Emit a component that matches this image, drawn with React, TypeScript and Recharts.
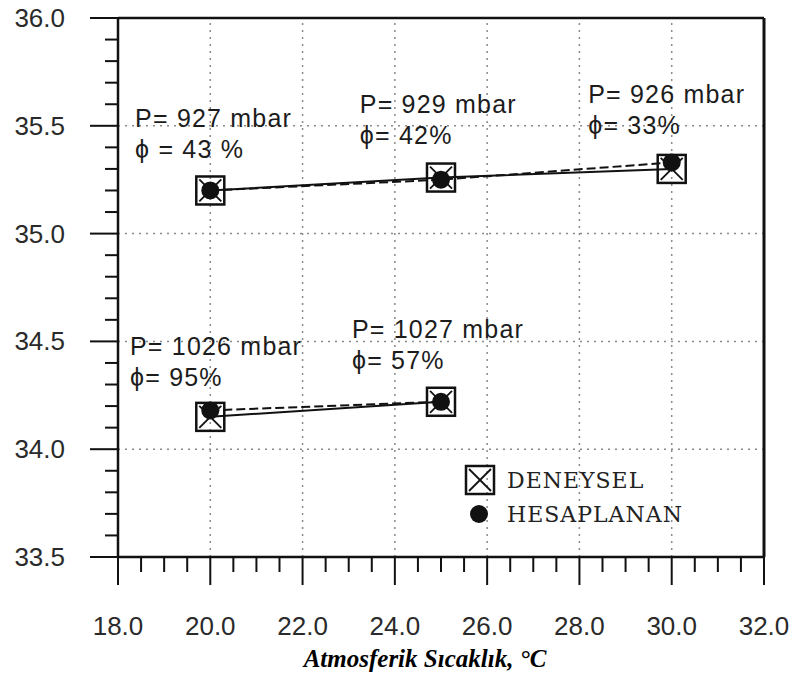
import { Legend, Line, LineChart, ReferenceDot, ReferenceLine, XAxis, YAxis } from 'recharts';

// measured points
const temps = [20, 25, 30];
const upperDeneysel = [35.2, 35.26, 35.3];
const upperHesap = [35.2, 35.25, 35.33];
const lowerDeneysel = [34.15, 34.22, null];
const lowerHesap = [34.18, 34.22, null];

const xTicks = [
  18, 18.5, 19, 19.5, 20, 20.5, 21, 21.5, 22, 22.5, 23, 23.5, 24, 24.5, 25, 25.5, 26, 26.5, 27, 27.5,
  28, 28.5, 29, 29.5, 30, 30.5, 31, 31.5, 32,
];
const yTicks = [
  33.5, 33.6, 33.7, 33.8, 33.9, 34.0, 34.1, 34.2, 34.3, 34.4, 34.5, 34.6, 34.7, 34.8, 34.9, 35.0, 35.1,
  35.2, 35.3, 35.4, 35.5, 35.6, 35.7, 35.8, 35.9, 36.0,
];
const gridX = [20, 22, 24, 26, 28, 30];
const gridY = [34.0, 34.5, 35.0, 35.5];

// condition labels, anchored at data coordinates (left edge, first baseline)
const noteX = [18.37, 23.24, 28.19, 18.26, 23.07];
const noteY = [35.495, 35.56, 35.606, 34.437, 34.516];
const notePressure = ['P= 927 mbar', 'P= 929 mbar', 'P= 926 mbar', 'P= 1026 mbar', 'P= 1027 mbar'];
const noteHumidity = ['\u03d5 = 43 %', '\u03d5= 42%', '\u03d5= 33%', '\u03d5= 95%', '\u03d5= 57%'];

const data = temps.map((t, i) => ({
  t,
  upperDeneysel: upperDeneysel[i],
  upperHesap: upperHesap[i],
  lowerDeneysel: lowerDeneysel[i],
  lowerHesap: lowerHesap[i],
}));

const SANS = '"Liberation Sans", Arial, sans-serif';
const INK = '#111';

const isMultiple = (v: number, step: number) => Math.abs(v / step - Math.round(v / step)) < 1e-6;

function XTick({ x, y, payload }: any) {
  const v = payload.value as number;
  const major = isMultiple(v, 2);
  return (
    <g>
      <line x1={x} x2={x} y1={y} y2={y + (major ? 28 : 15)} stroke={INK} strokeWidth={2} />
      {major && (
        <text x={x} y={y + 78} textAnchor="middle" fontFamily={SANS} fontSize={26} fill="#2a2a2a">
          {v.toFixed(1)}
        </text>
      )}
    </g>
  );
}

function YTick({ x, y, payload }: any) {
  const v = payload.value as number;
  const major = isMultiple(v, 0.5);
  return (
    <g>
      <line x1={x - (major ? 28 : 13)} x2={x} y1={y} y2={y} stroke={INK} strokeWidth={2} />
      {major && (
        <text x={x - 53} y={y + 9} textAnchor="end" fontFamily={SANS} fontSize={26} fill="#2a2a2a">
          {v.toFixed(1)}
        </text>
      )}
    </g>
  );
}

function CrossBox({ cx, cy }: any) {
  if (cx == null || cy == null) return null;
  const h = 14;
  return (
    <g>
      <rect x={cx - h} y={cy - h} width={h * 2} height={h * 2} fill="none" stroke={INK} strokeWidth={2.5} />
      <line x1={cx - h + 3} y1={cy - h + 3} x2={cx + h - 3} y2={cy + h - 3} stroke={INK} strokeWidth={1.8} />
      <line x1={cx + h - 3} y1={cy - h + 3} x2={cx - h + 3} y2={cy + h - 3} stroke={INK} strokeWidth={1.8} />
    </g>
  );
}

function Blob({ cx, cy }: any) {
  if (cx == null || cy == null) return null;
  return <circle cx={cx} cy={cy} r={9} fill={INK} />;
}

function Note({ cx, cy, index }: any) {
  return (
    <g fontFamily={SANS} fontSize={25} fill="#1c1c1c" letterSpacing={1.2}>
      <text x={cx} y={cy}>{notePressure[index]}</text>
      <text x={cx} y={cy + 31}>{noteHumidity[index]}</text>
    </g>
  );
}

function LegendBox() {
  return (
    <svg width={280} height={70} style={{ overflow: 'visible' }}>
      <CrossBox cx={18} cy={18} />
      <Blob cx={17} cy={52} />
      <g fontFamily='"DejaVu Serif", "Liberation Serif", serif' fontSize={22} fill="#222" letterSpacing={1}>
        <text x={45} y={26}>DENEYSEL</text>
        <text x={45} y={60}>HESAPLANAN</text>
      </g>
    </svg>
  );
}

export default function App() {
  return (
    <div style={{ position: 'absolute', left: 0, top: 0, background: '#fff' }}>
      <LineChart width={792} height={675} data={data} margin={{ top: 18, right: 28, bottom: 0, left: 0 }}>
        <XAxis
          dataKey="t"
          type="number"
          domain={[18, 32]}
          ticks={xTicks}
          interval={0}
          height={118}
          tickSize={0}
          tickMargin={0}
          tickLine={false}
          tick={<XTick />}
          axisLine={{ stroke: INK, strokeWidth: 2.5 }}
          label={{
            value: 'Atmosferik S\u0131cakl\u0131k, \u00b0C',
            position: 'insideBottom',
            offset: 8,
            dx: -16,
            style: {
              fontFamily: '"Liberation Serif", "Times New Roman", serif',
              fontStyle: 'italic',
              fontWeight: 'bold',
              fontSize: 25,
              fill: '#000',
            },
          }}
        />
        <YAxis
          type="number"
          domain={[33.5, 36]}
          ticks={yTicks}
          interval={0}
          width={118}
          tickSize={0}
          tickMargin={0}
          tickLine={false}
          tick={<YTick />}
          axisLine={{ stroke: INK, strokeWidth: 2.5 }}
        />
        {gridX.map((g) => (
          <ReferenceLine key={`gx${g}`} x={g} stroke="#8a8a8a" strokeWidth={1.5} strokeDasharray="2 5" />
        ))}
        {gridY.map((g) => (
          <ReferenceLine key={`gy${g}`} y={g} stroke="#8a8a8a" strokeWidth={1.5} strokeDasharray="2 5" />
        ))}
        <ReferenceLine y={36} stroke={INK} strokeWidth={2.5} />
        <ReferenceLine x={32} stroke={INK} strokeWidth={3} />
        <Legend
          layout="horizontal"
          verticalAlign="middle"
          align="center"
          content={<LegendBox />}
          wrapperStyle={{ left: 462, top: 462, width: 280, height: 70 }}
        />
        <Line dataKey="upperDeneysel" stroke={INK} strokeWidth={2} dot={<CrossBox />} isAnimationActive={false} legendType="none" />
        <Line dataKey="lowerDeneysel" stroke={INK} strokeWidth={2} dot={<CrossBox />} isAnimationActive={false} legendType="none" />
        <Line dataKey="upperHesap" stroke={INK} strokeWidth={2} strokeDasharray="9 4" dot={<Blob />} isAnimationActive={false} legendType="none" />
        <Line dataKey="lowerHesap" stroke={INK} strokeWidth={2} strokeDasharray="9 4" dot={<Blob />} isAnimationActive={false} legendType="none" />
        {noteX.map((nx, i) => (
          <ReferenceDot key={`n${i}`} x={nx} y={noteY[i]} r={0} shape={(p: any) => <Note {...p} index={i} />} />
        ))}
      </LineChart>
    </div>
  );
}
